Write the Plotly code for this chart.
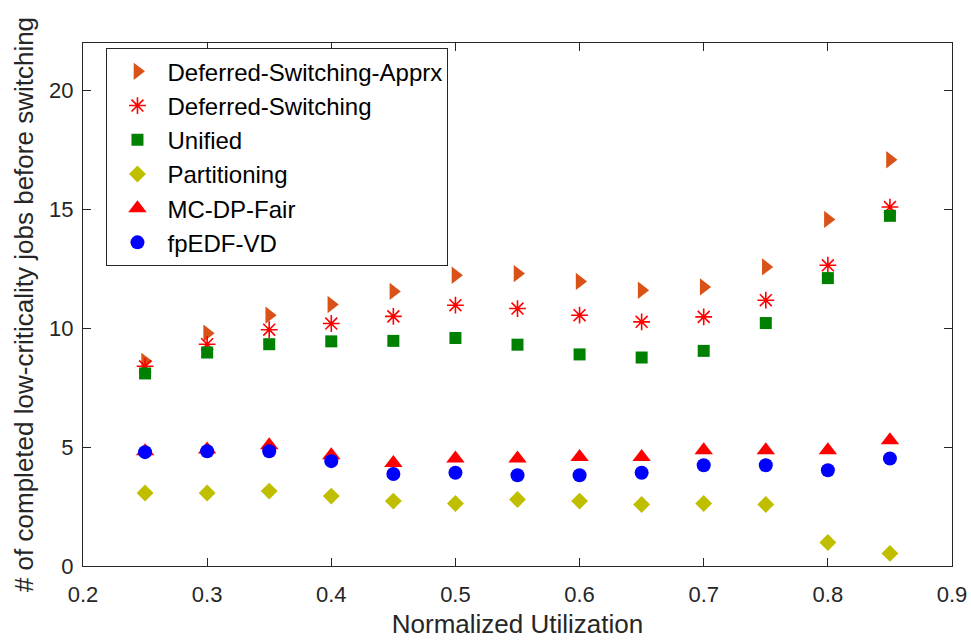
import plotly.graph_objects as go

x_util = [0.25, 0.30, 0.35, 0.40, 0.45, 0.50, 0.55, 0.60, 0.65, 0.70, 0.75, 0.80, 0.85]

ds_apprx = [8.61, 9.79, 10.55, 11.0, 11.55, 12.23, 12.3, 11.97, 11.6, 11.74, 12.58, 14.58, 17.09]
ds = [8.4, 9.33, 9.94, 10.2, 10.5, 10.97, 10.83, 10.55, 10.27, 10.48, 11.18, 12.65, 15.1]
unified = [8.1, 8.98, 9.33, 9.45, 9.47, 9.59, 9.31, 8.9, 8.77, 9.05, 10.22, 12.11, 14.73]
partitioning = [3.07, 3.07, 3.15, 2.94, 2.73, 2.63, 2.8, 2.73, 2.59, 2.63, 2.59, 0.99, 0.53]
mc_dp_fair = [4.83, 4.9, 5.08, 4.66, 4.33, 4.52, 4.52, 4.59, 4.59, 4.87, 4.87, 4.87, 5.29]
fpedf_vd = [4.79, 4.83, 4.83, 4.41, 3.87, 3.92, 3.82, 3.82, 3.92, 4.24, 4.24, 4.03, 4.52]

x_ticks = [0.2, 0.3, 0.4, 0.5, 0.6, 0.7, 0.8, 0.9]
y_ticks = [0, 5, 10, 15, 20]

FONT = "Liberation Sans, Arial, Helvetica, sans-serif"

fig = go.Figure()
fig.add_trace(go.Scatter(x=x_util, y=ds_apprx, mode="markers", name="Deferred-Switching-Apprx",
                         marker=dict(symbol="triangle-right", size=15, color="#D95319", line=dict(width=0))))
fig.add_trace(go.Scatter(x=x_util, y=ds, mode="markers", name="Deferred-Switching",
                         marker=dict(symbol="asterisk-open", size=14, color="#FF0000", line=dict(width=1.6, color="#FF0000"))))
fig.add_trace(go.Scatter(x=x_util, y=unified, mode="markers", name="Unified",
                         marker=dict(symbol="square", size=12, color="#008000", line=dict(width=0))))
fig.add_trace(go.Scatter(x=x_util, y=partitioning, mode="markers", name="Partitioning",
                         marker=dict(symbol="diamond", size=13, color="#BFBF00", line=dict(width=0))))
fig.add_trace(go.Scatter(x=x_util, y=mc_dp_fair, mode="markers", name="MC-DP-Fair",
                         marker=dict(symbol="triangle-up", size=16, color="#FF0000", line=dict(width=0))))
fig.add_trace(go.Scatter(x=x_util, y=fpedf_vd, mode="markers", name="fpEDF-VD",
                         marker=dict(symbol="circle", size=14, color="#0000FF", line=dict(width=0))))

axis_common = dict(
    showgrid=False, zeroline=False, showline=True, linecolor="#262626", linewidth=1,
    mirror="ticks", ticks="inside", ticklen=8, tickcolor="#262626", automargin=False,
    tickfont=dict(family=FONT, size=22, color="#262626"),
)

fig.update_layout(
    width=971, height=642,
    margin=dict(l=83, r=19, t=43, b=76),
    paper_bgcolor="white", plot_bgcolor="white",
    font=dict(family=FONT, color="#262626"),
    xaxis=dict(range=[0.2, 0.9], tickvals=x_ticks, ticktext=[f"{v:.1f}" for v in x_ticks],
               ticklabelstandoff=9,
               title=dict(text="Normalized Utilization", font=dict(size=26), standoff=8), **axis_common),
    yaxis=dict(range=[0, 22], tickvals=y_ticks, ticklabelstandoff=4,
               title=dict(text="# of completed low-criticality jobs before switching", font=dict(size=26), standoff=8), **axis_common),
    legend=dict(x=0.027, y=0.99, xanchor="left", yanchor="top",
                bgcolor="white", bordercolor="#262626", borderwidth=1,
                font=dict(family=FONT, size=24, color="#000000"), itemwidth=50),
    showlegend=True,
)

fig.write_html("out.html", config={"displayModeBar": False},
               post_script="document.body.style.margin='0';document.body.style.overflow='hidden';")
